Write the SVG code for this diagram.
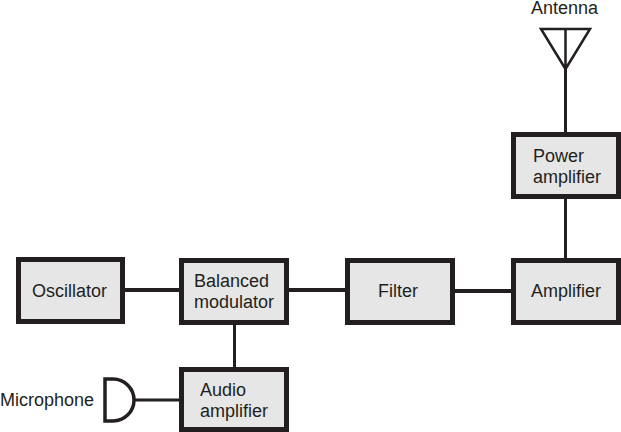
<svg xmlns="http://www.w3.org/2000/svg" width="621" height="432" viewBox="0 0 621 432">
<style>
.b{fill:#e6e6e6;stroke:#231f20;stroke-width:5}
.c{fill:none;stroke:#231f20;stroke-width:4}
.d{fill:none;stroke:#231f20;stroke-width:3}
.t{font-family:"Liberation Sans",Arial,sans-serif;font-size:18px;fill:#231f20}
</style>
<rect width="621" height="432" fill="#fff"/>
<g id="connectors">
<path class="c" d="M123 290H182M287 290H347M453 291H513"/>
<path class="d" d="M565.5 259V197M565.5 134V68M234.5 322V369M134 400H182"/>
</g>
<g id="antenna"><path d="M541 29H590L565.5 69ZM565.5 29V69" fill="none" stroke="#231f20" stroke-width="2.5"/><text class="t" x="531" y="14">Antenna</text></g>
<g id="power"><rect class="b" x="513.5" y="134.5" width="105" height="62"/><text class="t" x="533" y="162">Power</text><text class="t" x="533" y="183">amplifier</text></g>
<g id="oscillator"><rect class="b" x="18.5" y="259.5" width="104" height="62"/><text class="t" x="32" y="297">Oscillator</text></g>
<g id="modulator"><rect class="b" x="181.5" y="260.5" width="105" height="62"/><text class="t" x="194" y="287">Balanced</text><text class="t" x="194" y="308">modulator</text></g>
<g id="filter"><rect class="b" x="347.5" y="260.5" width="105" height="62"/><text class="t" x="378" y="297">Filter</text></g>
<g id="amplifier"><rect class="b" x="513.5" y="260.5" width="105" height="62"/><text class="t" x="531" y="297">Amplifier</text></g>
<g id="audio"><rect class="b" x="181.5" y="369.5" width="105" height="60"/><text class="t" x="200" y="396">Audio</text><text class="t" x="200" y="417">amplifier</text></g>
<g id="microphone"><path d="M105 379H113A21 21 0 0 1 113 421H105Z" fill="none" stroke="#231f20" stroke-width="3.5"/><text class="t" x="0" y="406">Microphone</text></g>
</svg>
